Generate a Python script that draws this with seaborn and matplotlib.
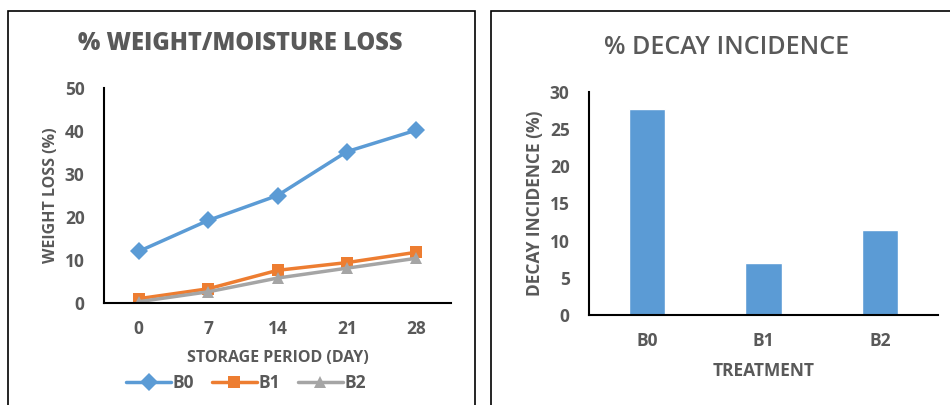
import pandas as pd
import matplotlib.pyplot as plt
import seaborn as sns
from matplotlib.patches import Rectangle
from matplotlib.lines import Line2D

days = [0, 7, 14, 21, 28]
b0_loss = [12.0, 19.2, 25.0, 35.2, 40.2]
b1_loss = [1.0, 3.3, 7.6, 9.4, 11.8]
b2_loss = [0.3, 2.6, 5.8, 8.1, 10.4]

treatments = ['B0', 'B1', 'B2']
decay = [27.7, 7.0, 11.4]

blue, orange, grey = '#5B9BD5', '#ED7D31', '#A5A5A5'
txt = '#595959'

sns.set_theme(style='white')
plt.rcParams['font.family'] = ['Open Sans', 'DejaVu Sans']

loss = pd.DataFrame({
    'day': days * 3,
    'loss': b0_loss + b1_loss + b2_loss,
    'treatment': ['B0'] * 5 + ['B1'] * 5 + ['B2'] * 5,
})
bars = pd.DataFrame({'treatment': treatments, 'decay': decay})

fig = plt.figure(figsize=(9.5, 4.05), dpi=100)

# panel frames
fig.patches.append(Rectangle((8 / 950, -0.05), 467 / 950, 1 - 11 / 405 + 0.05,
                             transform=fig.transFigure, fill=False,
                             edgecolor='black', linewidth=1.2))
fig.patches.append(Rectangle((491 / 950, -0.05), 0.6, 1 - 11 / 405 + 0.05,
                             transform=fig.transFigure, fill=False,
                             edgecolor='black', linewidth=1.2))


def style_axes(ax):
    ax.tick_params(axis='both', length=0, labelsize=12.5, labelcolor=txt)
    ax.tick_params(axis='x', pad=12)
    ax.tick_params(axis='y', pad=14)
    for lab in ax.get_xticklabels() + ax.get_yticklabels():
        lab.set_fontweight('bold')
    for s in ['top', 'right']:
        ax.spines[s].set_visible(False)
    for s in ['left', 'bottom']:
        ax.spines[s].set_color('black')
        ax.spines[s].set_linewidth(1.5)


# left: weight loss lines
ax1 = fig.add_axes([104 / 950, 1 - 303 / 405, 347 / 950, 215 / 405])
palette = {'B0': blue, 'B1': orange, 'B2': grey}
markers = {'B0': 'D', 'B1': 's', 'B2': '^'}
sns.lineplot(data=loss, x='day', y='loss', hue='treatment', style='treatment',
             palette=palette, markers=markers, dashes=False, markersize=9,
             linewidth=2.5, markeredgewidth=0, legend=False, ax=ax1)
ax1.set_xlim(-3.5, 31.5)
ax1.set_ylim(0, 50)
ax1.set_xticks(days)
ax1.set_yticks([0, 10, 20, 30, 40, 50])
ax1.set_xlabel('STORAGE PERIOD (DAY)', color=txt, fontsize=11.5,
               fontweight='bold', labelpad=9)
ax1.set_ylabel('WEIGHT LOSS (%)', color=txt, fontsize=11.5,
               fontweight='bold', labelpad=4)
style_axes(ax1)
fig.text(240 / 950, 1 - 43 / 405, '% WEIGHT/MOISTURE LOSS', ha='center', va='center',
         fontsize=17, fontweight='heavy', color=txt)

handles = [Line2D([], [], color=palette[t], marker=markers[t], markersize=9,
                  markeredgewidth=0, linewidth=2.5) for t in treatments]
fig.legend(handles, treatments, loc='center', bbox_to_anchor=(246 / 950, 1 - 383 / 405),
           ncol=3, frameon=False, labelcolor=txt, handlelength=2.6,
           handletextpad=0.1, columnspacing=1.0, prop={'weight': 'bold', 'size': 12.5})

# right: decay incidence bars
ax2 = fig.add_axes([589 / 950, 1 - 315 / 405, 349 / 950, 223 / 405])
sns.barplot(data=bars, x='treatment', y='decay', color=blue, width=0.31,
            saturation=1, ax=ax2)
ax2.set_xlim(-0.5, 2.5)
ax2.set_ylim(0, 30)
ax2.set_yticks([0, 5, 10, 15, 20, 25, 30])
ax2.set_xlabel('TREATMENT', color=txt, fontsize=12.5, fontweight='bold', labelpad=9)
ax2.set_ylabel('DECAY INCIDENCE (%)', color=txt, fontsize=12.5,
               fontweight='bold', labelpad=4)
style_axes(ax2)
fig.text(727 / 950, 1 - 47 / 405, '% DECAY INCIDENCE', ha='center', va='center',
         fontsize=18, fontweight='semibold', color=txt)

fig.savefig('out.png', dpi=100)
